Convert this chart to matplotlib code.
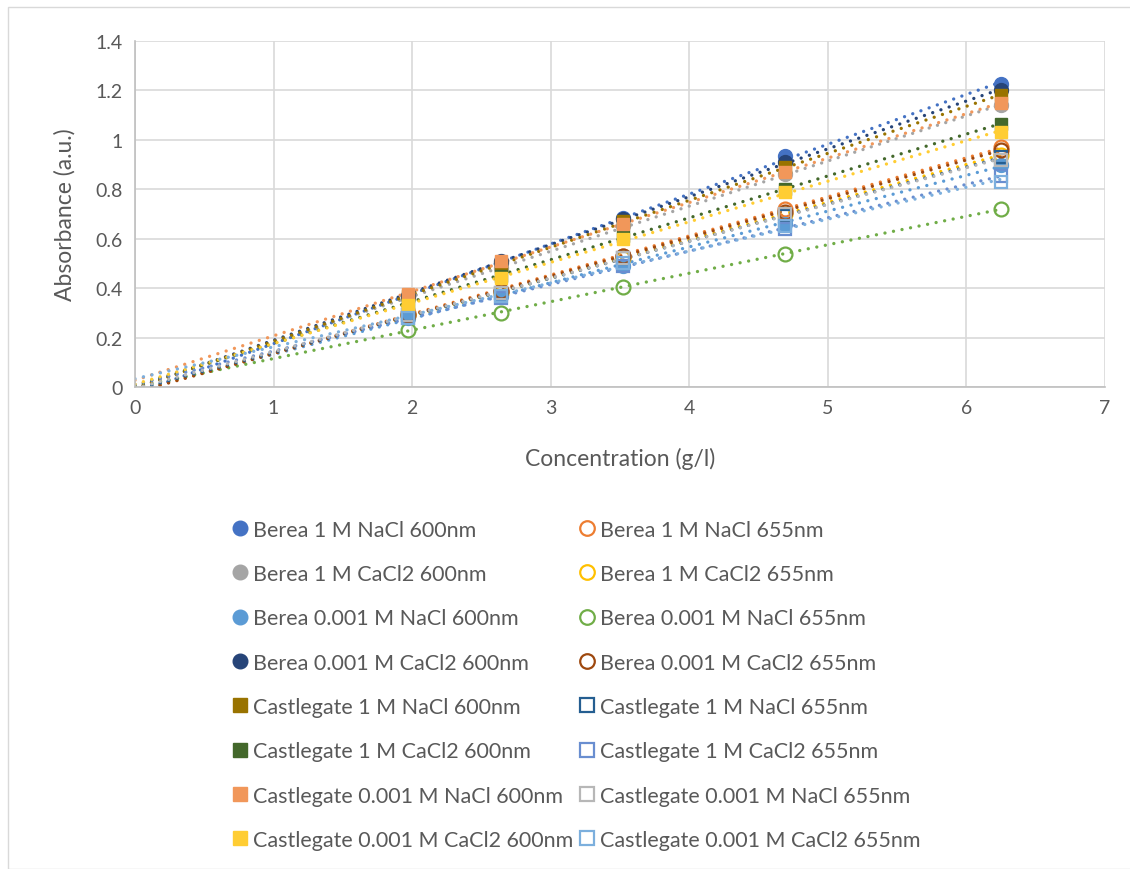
import numpy as np
import matplotlib
matplotlib.use('Agg')
import matplotlib.pyplot as plt
from matplotlib.patches import Rectangle

plt.rcParams['font.family'] = ['Lato', 'DejaVu Sans']

conc = [1.97, 2.64, 3.52, 4.69, 6.25]

names = [
    'Berea 1 M NaCl 600nm', 'Berea 1 M NaCl 655nm',
    'Berea 1 M CaCl2 600nm', 'Berea 1 M CaCl2 655nm',
    'Berea 0.001 M NaCl 600nm', 'Berea 0.001 M NaCl 655nm',
    'Berea 0.001 M CaCl2 600nm', 'Berea 0.001 M CaCl2 655nm',
    'Castlegate 1 M NaCl 600nm', 'Castlegate 1 M NaCl 655nm',
    'Castlegate 1 M CaCl2 600nm', 'Castlegate 1 M CaCl2 655nm',
    'Castlegate 0.001 M NaCl 600nm', 'Castlegate 0.001 M NaCl 655nm',
    'Castlegate 0.001 M CaCl2 600nm', 'Castlegate 0.001 M CaCl2 655nm',
]

absorb = [
    [0.37, 0.50, 0.685, 0.935, 1.225],
    [0.30, 0.39, 0.53, 0.72, 0.97],
    [0.36, 0.48, 0.65, 0.86, 1.14],
    [0.29, 0.38, 0.52, 0.70, 0.94],
    [0.28, 0.37, 0.49, 0.66, 0.90],
    [0.23, 0.30, 0.405, 0.54, 0.72],
    [0.37, 0.51, 0.68, 0.91, 1.20],
    [0.29, 0.39, 0.53, 0.71, 0.96],
    [0.37, 0.49, 0.67, 0.89, 1.18],
    [0.29, 0.38, 0.52, 0.69, 0.93],
    [0.34, 0.45, 0.61, 0.80, 1.065],
    [0.28, 0.36, 0.49, 0.64, 0.855],
    [0.375, 0.51, 0.66, 0.87, 1.15],
    [0.29, 0.38, 0.52, 0.70, 0.92],
    [0.33, 0.44, 0.60, 0.79, 1.03],
    [0.28, 0.37, 0.50, 0.65, 0.83],
]

colors = ['#4472C4', '#ED7D31', '#A5A5A5', '#FFC000', '#5B9BD5', '#70AD47',
          '#264478', '#9E480E', '#997300', '#255E91', '#43682B', '#698ED0',
          '#F1975A', '#B7B7B7', '#FFCD33', '#7CAFDD']

txt = '#595959'
fig = plt.figure(figsize=(11.3, 8.7), dpi=100)
fig.patches.append(Rectangle((8 / 1130, 0), 1, 1 - 8 / 870, transform=fig.transFigure,
                             fill=False, edgecolor='#D9D9D9', linewidth=1))
ax = fig.add_axes([135 / 1130, 1 - 388 / 870, 970 / 1130, 346 / 870])

handles = []
xs = np.array([0, conc[-1]])
for i, (nm, ys, c) in enumerate(zip(names, absorb, colors)):
    marker = 'o' if i < 8 else 's'
    filled = i % 2 == 0
    # linear trendline, forecast back to zero
    k, b = np.polyfit(conc, ys, 1)
    ax.plot(xs, k * xs + b, linestyle=(0, (0.01, 2.6)), color=c, lw=2.4,
            dash_capstyle='round', zorder=2)
    if filled:
        h, = ax.plot(conc, ys, marker, color=c, ms=10 if marker == 'o' else 9,
                     mec=c, linestyle='none', label=nm, zorder=3)
    else:
        h, = ax.plot(conc, ys, marker, mfc='none', mec=c, mew=1.6,
                     ms=10 if marker == 'o' else 9, linestyle='none', label=nm, zorder=3)
    handles.append(h)

ax.set_xlim(0, 7)
ax.set_ylim(0, 1.4)
ax.set_xticks(range(0, 8))
ax.set_yticks(np.arange(0, 1.41, 0.2))
ax.set_yticklabels(['0', '0.2', '0.4', '0.6', '0.8', '1', '1.2', '1.4'])
ax.grid(True, color='#D9D9D9', lw=1.2)
ax.set_axisbelow(True)
for s in ['top', 'right']:
    ax.spines[s].set_visible(False)
for s in ['left', 'bottom']:
    ax.spines[s].set_color('#BFBFBF')
    ax.spines[s].set_linewidth(1.2)
ax.tick_params(length=0, labelsize=14, labelcolor=txt, pad=9)
ax.set_xlabel('Concentration (g/l)', fontsize=16.5, color=txt, labelpad=22)
ax.set_ylabel('Absorbance (a.u.)', fontsize=16.5, color=txt, labelpad=14)

order = list(range(0, 16, 2)) + list(range(1, 16, 2))
leg_h = [handles[j] for j in order]
leg = fig.legend(leg_h, [names[j] for j in order], ncol=2, loc='upper left',
                 bbox_to_anchor=(225 / 1130, 1 - 512 / 870), frameon=False,
                 fontsize=15.5, labelcolor=txt, handlelength=0.6, handletextpad=0.3,
                 columnspacing=0.35, labelspacing=1.13, markerscale=1.05,
                 borderaxespad=0)

fig.savefig('out.png', dpi=100)
